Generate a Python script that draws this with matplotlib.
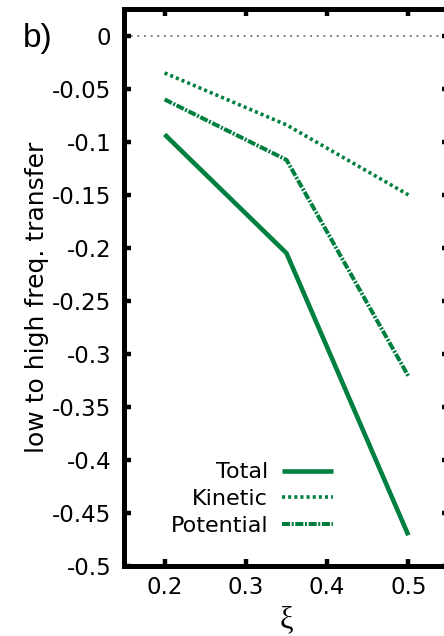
import matplotlib
matplotlib.use("Agg")
import matplotlib.pyplot as plt

plt.rcParams['font.family'] = ['DejaVu Sans']

xi = [0.2, 0.35, 0.5]
total = [-0.093, -0.205, -0.471]
kinetic = [-0.035, -0.084, -0.150]
potential = [-0.060, -0.117, -0.321]

xticks = [0.2, 0.3, 0.4, 0.5]
xtick_labels = ['0.2', '0.3', '0.4', '0.5']
yticks = [0, -0.05, -0.1, -0.15, -0.2, -0.25, -0.3, -0.35, -0.4, -0.45, -0.5]
ytick_labels = ['0', '-0.05', '-0.1', '-0.15', '-0.2', '-0.25', '-0.3', '-0.35', '-0.4', '-0.45', '-0.5']

green = '#008040'
W, H = 444, 636
ax_h = 566 - 9.3

fig = plt.figure(figsize=(W / 100, H / 100), dpi=100)
ax = fig.add_axes([124 / W, (H - 566) / H, 325 / W, ax_h / H])

# zero line
ax.axhline(0, color='#858585', lw=1.45, ls=(0, (1, 2.3)), zorder=1)

ax.plot(xi, total, color=green, lw=3.3, solid_capstyle='butt', label='Total')
ax.plot(xi, kinetic, color=green, lw=2.6, ls=(0, (0.85, 0.85)), label='Kinetic')
ax.plot(xi, potential, color=green, lw=2.9, ls=(0, (2.0, 0.4, 0.5, 0.4)), label='Potential')

ax.set_xlim(0.15, 0.55)
ax.set_ylim(-0.5, 0.025)
ax.set_xticks(xticks)
ax.set_xticklabels(xtick_labels)
ax.set_yticks(yticks)
ax.set_yticklabels(ytick_labels)

for s in ax.spines.values():
    s.set_linewidth(3.6)
ax.tick_params(direction='in', length=5, width=3.2, top=True, right=True,
               labelsize=16.5)
ax.tick_params(axis='x', pad=7)
ax.tick_params(axis='y', pad=9)

ax.set_ylabel('low to high freq. transfer', fontsize=18)
ax.yaxis.set_label_coords((49 - 124) / 325, (566 - 297.5) / ax_h)
ax.set_xlabel('ξ', fontsize=22, family='Liberation Serif')
ax.xaxis.set_label_coords(0.5, (566 - 620) / ax_h)
ax.xaxis.label.set_va('center')

leg = ax.legend(loc='center right', bbox_to_anchor=((333 - 124) / 325, (566 - 499) / ax_h),
                markerfirst=False, frameon=False, fontsize=16,
                handlelength=2.3, handletextpad=0.62, labelspacing=0.3,
                borderpad=0, borderaxespad=0)

fig.text(23 / W, 1 - 47 / H, 'b)', fontsize=24, ha='left', va='baseline',
         family='Liberation Sans')

fig.savefig('out.png', dpi=100)
